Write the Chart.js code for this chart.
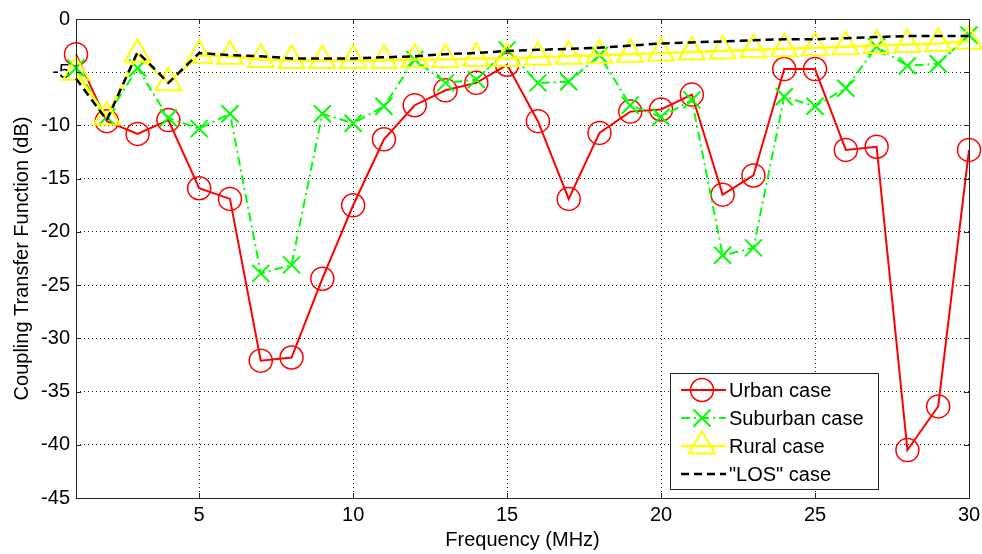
<!DOCTYPE html>
<html><head><meta charset="utf-8">
<script src="https://cdn.jsdelivr.net/npm/chart.js@4"></script>
<style>html,body{margin:0;padding:0;background:#fff}#wrap{width:982px;height:554px}</style>
</head><body><div id="wrap"><canvas id="c" width="982" height="554"></canvas></div>
<script>
const frequencies = [1,2,3,4,5,6,7,8,9,10,11,12,13,14,15,16,17,18,19,20,21,22,23,24,25,26,27,28,29,30];
const urban = [-3.3,-9.6,-10.8,-9.5,-15.9,-16.9,-32.1,-31.8,-24.4,-17.5,-11.3,-8.1,-6.7,-6.0,-4.3,-9.6,-16.9,-10.7,-8.7,-8.5,-7.1,-16.5,-14.7,-4.7,-4.7,-12.3,-12.0,-40.5,-36.4,-12.3];
const suburban = [-4.6,-9.2,-4.6,-9.3,-10.3,-8.9,-23.9,-23.1,-8.9,-9.8,-8.2,-3.8,-6.0,-5.7,-2.9,-6.0,-5.9,-3.4,-8.1,-9.2,-7.6,-22.2,-21.5,-7.3,-8.2,-6.5,-2.6,-4.4,-4.2,-1.5];
const rural = [-5.0,-9.2,-3.3,-6.0,-3.4,-3.5,-3.8,-3.9,-3.9,-3.9,-3.9,-3.8,-3.8,-3.7,-3.7,-3.6,-3.5,-3.4,-3.3,-3.2,-3.1,-3.0,-2.9,-2.8,-2.7,-2.6,-2.5,-2.4,-2.3,-2.1];
const los = [-5.6,-9.5,-3.1,-6.0,-3.2,-3.4,-3.5,-3.7,-3.7,-3.7,-3.6,-3.5,-3.3,-3.2,-3.0,-2.9,-2.8,-2.7,-2.5,-2.3,-2.2,-2.1,-2.0,-1.9,-1.9,-1.8,-1.7,-1.6,-1.6,-1.6];
const seriesNames = ['Urban case','Suburban case','Rural case','"LOS" case'];
const xTicks = [5,10,15,20,25,30];
const yTicks = [0,-5,-10,-15,-20,-25,-30,-35,-40,-45];
const xTitle = 'Frequency (MHz)';
const yTitle = 'Coupling Transfer Function (dB)';

const FONT = 'Liberation Sans, Arial, sans-serif';
const pts = arr => frequencies.map((f,i)=>({x:f,y:arr[i]}));

function drawMarker(ctx, style, x, y, r, color, lw){
  ctx.save(); ctx.strokeStyle=color; ctx.lineWidth=lw; ctx.setLineDash([]);
  ctx.beginPath();
  if(style==='circle'){ ctx.arc(x,y,r,0,Math.PI*2); }
  else if(style==='crossRot'){ const d=r*Math.SQRT1_2; ctx.moveTo(x-d,y-d);ctx.lineTo(x+d,y+d);ctx.moveTo(x+d,y-d);ctx.lineTo(x-d,y+d); }
  else if(style==='triangle'){ ctx.moveTo(x,y-r); ctx.lineTo(x+r*Math.sin(2*Math.PI/3),y-r*Math.cos(2*Math.PI/3)); ctx.lineTo(x+r*Math.sin(4*Math.PI/3),y-r*Math.cos(4*Math.PI/3)); ctx.closePath(); }
  ctx.stroke(); ctx.restore();
}

const areaPlugin = {
  id:'area',
  afterLayout(chart){
    const a = chart.chartArea, x = chart.scales.x;
    const R = 969;
    a.right = R; a.width = a.right - a.left;
    x.right = R; x.width = x.right - x.left;
    x.configure();
  }
};

const framePlugin = {
  id:'frame',
  afterDraw(chart){
    const {ctx, chartArea:a, scales} = chart;
    ctx.save();
    ctx.strokeStyle='#262626'; ctx.lineWidth=1; ctx.setLineDash([]);
    ctx.strokeRect(Math.round(a.left)+0.5, Math.round(a.top)+0.5, Math.round(a.right-a.left), Math.round(a.bottom-a.top));
    ctx.beginPath();
    const tl=5;
    xTicks.forEach(v=>{const px=Math.round(scales.x.getPixelForValue(v))+0.5; ctx.moveTo(px,a.bottom);ctx.lineTo(px,a.bottom-tl);ctx.moveTo(px,a.top);ctx.lineTo(px,a.top+tl);});
    yTicks.forEach(v=>{const py=Math.round(scales.y.getPixelForValue(v))+0.5; ctx.moveTo(a.left,py);ctx.lineTo(a.left+tl,py);ctx.moveTo(a.right,py);ctx.lineTo(a.right-tl,py);});
    ctx.stroke();
    // legend
    const L={x:670,y:373,w:208,h:116};
    ctx.fillStyle='#fff'; ctx.fillRect(L.x,L.y,L.w,L.h);
    ctx.strokeStyle='#262626'; ctx.strokeRect(L.x+0.5,L.y+0.5,L.w,L.h);
    ctx.font='20px '+FONT; ctx.textBaseline='middle'; ctx.textAlign='left';
    chart.data.datasets.forEach((ds,i)=>{
      const cy=L.y+17+i*28;
      ctx.save(); ctx.strokeStyle=ds.borderColor; ctx.lineWidth=ds.borderWidth; ctx.setLineDash(ds.borderDash||[]);
      ctx.beginPath(); ctx.moveTo(L.x+11,cy); ctx.lineTo(L.x+56,cy); ctx.stroke(); ctx.restore();
      if(ds.pointRadius>0) drawMarker(ctx, ds.pointStyle, L.x+32, cy, ds.pointRadius, ds.borderColor, ds.pointBorderWidth);
      ctx.fillStyle='#000'; ctx.fillText(ds.label, L.x+59, cy+1);
    });
    ctx.restore();
  }
};

new Chart(document.getElementById('c'), {
  type:'line',
  data:{datasets:[
    {label:seriesNames[0], data:pts(urban), borderColor:'#ff0000', borderWidth:2, pointStyle:'circle', pointRadius:11.5, pointBorderWidth:1.5, pointBackgroundColor:'rgba(0,0,0,0)', pointBorderColor:'#ff0000', order:4, clip:false, tension:0},
    {label:seriesNames[1], data:pts(suburban), borderColor:'#00ff00', borderWidth:2, borderDash:[9,4,2,4], pointStyle:'crossRot', pointRadius:12, pointBorderWidth:2, pointBackgroundColor:'rgba(0,0,0,0)', pointBorderColor:'#00ff00', order:3, clip:false, tension:0},
    {label:seriesNames[2], data:pts(rural), borderColor:'#ffff00', borderWidth:2.5, pointStyle:'triangle', pointRadius:15, pointBorderWidth:2, pointBackgroundColor:'rgba(0,0,0,0)', pointBorderColor:'#ffff00', order:2, clip:false, tension:0},
    {label:seriesNames[3], data:pts(los), borderColor:'#000000', borderWidth:2.5, borderDash:[8,5], pointRadius:0, pointBorderWidth:0, order:1, clip:false, tension:0}
  ]},
  options:{
    responsive:false, animation:false,
    layout:{padding:{left:0,right:9,top:19,bottom:0}},
    plugins:{legend:{display:false}, tooltip:{enabled:false}},
    scales:{
      x:{type:'linear', min:1, max:30,
        afterBuildTicks(s){ s.ticks = xTicks.map(v=>({value:v})); },
        afterFit(s){ s.height=56; },
        grid:{color:'rgba(0,0,0,0.85)', lineWidth:1, drawTicks:false},
        border:{display:false, dash:[1,3]},
        ticks:{padding:5, color:'#000', font:{family:FONT,size:20}, maxRotation:0},
        title:{display:true, text:xTitle, color:'#000', font:{family:FONT,size:20}, padding:{top:0,bottom:2}}
      },
      y:{type:'linear', min:-45, max:0,
        afterBuildTicks(s){ s.ticks = yTicks.map(v=>({value:v})); },
        afterFit(s){ s.width=76; },
        grid:{color:'rgba(0,0,0,0.85)', lineWidth:1, drawTicks:false},
        border:{display:false, dash:[1,3]},
        ticks:{padding:6, color:'#000', font:{family:FONT,size:20}},
        title:{display:true, text:yTitle, color:'#000', font:{family:FONT,size:20}, padding:{top:10,bottom:0}}
      }
    }
  },
  plugins:[areaPlugin, framePlugin]
});
</script></body></html>
